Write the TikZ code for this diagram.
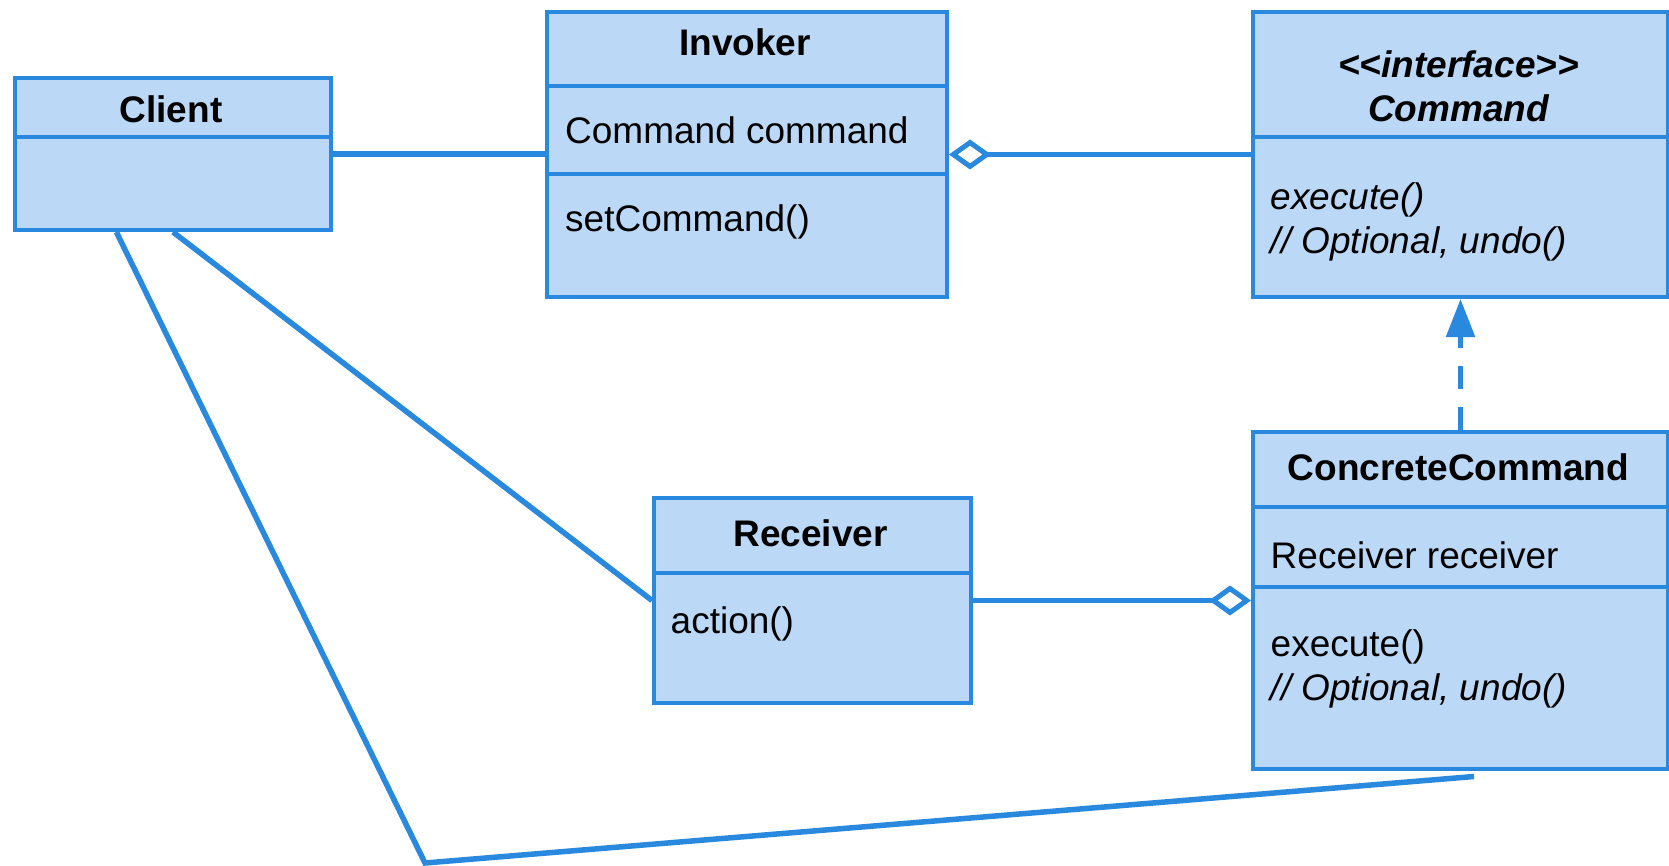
\documentclass[tikz,border=0pt]{standalone}
\usepackage{fontspec}
\setmainfont{Liberation Sans}
\usetikzlibrary{arrows.meta,calc}
\definecolor{boxfill}{RGB}{187,216,246}
\definecolor{boxline}{RGB}{40,137,222}
\tikzset{
  classbox/.style={draw=boxline, fill=boxfill, line width=4pt, anchor=north west, inner sep=0pt, rectangle},
  sepline/.style={draw=boxline, line width=4pt},
  conn/.style={draw=boxline, line width=5.5pt},
  ttl/.style={font=\fontsize{37}{44}\selectfont\bfseries, anchor=base, inner sep=0pt},
  ittl/.style={font=\fontsize{37}{44}\selectfont\bfseries\itshape, anchor=base, inner sep=0pt},
  member/.style={font=\fontsize{37}{44}\selectfont, anchor=base west, inner sep=0pt},
  imember/.style={font=\fontsize{37}{44}\selectfont\itshape, anchor=base west, inner sep=0pt},
  agg/.style={{Diamond[open, length=42pt, width=30pt, line width=5pt]}-},
  realize/.style={-{Triangle[length=38pt, width=28pt]}, dash pattern=on 23pt off 18pt}
}
\begin{document}
\begin{tikzpicture}[x=1pt,y=-1pt]
\useasboundingbox (0,0) rectangle (1669,866);
% boxes
\node[classbox, minimum width=316pt, minimum height=152pt] (client) at (13,76) {};
\node[classbox, minimum width=400pt, minimum height=285pt] (invoker) at (545,10) {};
\node[classbox, minimum width=415pt, minimum height=285pt] (command) at (1251,10) {};
\node[classbox, minimum width=415pt, minimum height=337pt] (concrete) at (1251,430) {};
\node[classbox, minimum width=317pt, minimum height=205pt] (receiver) at (652,496) {};
% separators
\draw[sepline] ([yshift=-61.5pt]client.north west) -- ([yshift=-61.5pt]client.north east);
\draw[sepline] ([yshift=-76pt]invoker.north west) -- ([yshift=-76pt]invoker.north east);
\draw[sepline] ([yshift=-164pt]invoker.north west) -- ([yshift=-164pt]invoker.north east);
\draw[sepline] ([yshift=-127.3pt]command.north west) -- ([yshift=-127.3pt]command.north east);
\draw[sepline] ([yshift=-76.7pt]concrete.north west) -- ([yshift=-76.7pt]concrete.north east);
\draw[sepline] ([yshift=-156.7pt]concrete.north west) -- ([yshift=-156.7pt]concrete.north east);
\draw[sepline] ([yshift=-77pt]receiver.north west) -- ([yshift=-77pt]receiver.north east);
% texts
\node[ttl] (clientT) at (171,122.5) {Client};
\node[ttl] (invokerT) at (745,56) {Invoker};
\node[member] (invA) at (565,144) {Command command};
\node[member] (invM) at (565,231.7) {setCommand()};
\node[ittl] (cmdS) at (1458.5,77.3) {{<}{<}interface{>}{>}};
\node[ittl] (cmdT) at (1458.5,121.7) {Command};
\node[imember] (cmdM1) at (1270.5,209.3) {execute()};
\node[imember] (cmdM2) at (1270.5,253.3) {// Optional, undo()};
\node[ttl] (ccT) at (1458.5,480) {ConcreteCommand};
\node[member] (ccA) at (1270.5,568.3) {Receiver receiver};
\node[member] (ccM1) at (1270.5,656) {execute()};
\node[imember] (ccM2) at (1270.5,700) {// Optional, undo()};
\node[ttl] (recT) at (810.5,546.7) {Receiver};
\node[member] (recM) at (670.5,633) {action()};
% connectors
\coordinate (cl1) at ($(client.south west)!0.323!(client.south east)$);
\coordinate (bend) at (425,863);
\coordinate (ccEnd) at ($(concrete.south)+(13.5,5.5)$);
\draw[conn] (client.east) -- (client.east -| invoker.west);
\draw[conn, agg] (invoker.east) -- (invoker.east -| command.west);
\draw[conn, agg] (concrete.west) -- (concrete.west -| receiver.east);
\draw[conn, realize] (concrete.north) -- (command.south);
\draw[conn] (client.south) -- (receiver.west);
\draw[conn] (cl1) -- (bend) -- (ccEnd);
\end{tikzpicture}
\end{document}
